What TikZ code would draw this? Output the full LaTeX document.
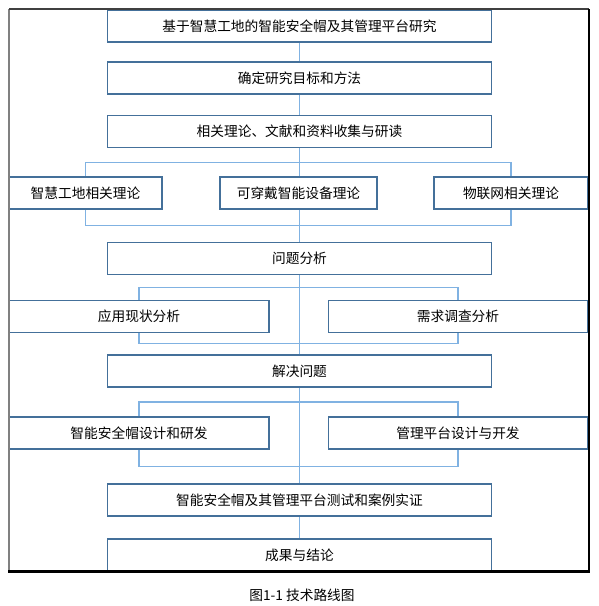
\documentclass[tikz,border=0pt]{standalone}
\usepackage{fontspec}
\newfontfamily\cjk{Noto Sans CJK SC}
\usetikzlibrary{calc,backgrounds}
\definecolor{boxline}{RGB}{68,112,154}
\definecolor{linkline}{RGB}{128,178,226}
\tikzset{stage/.style={draw=boxline, fill=white, line width=0.6pt, inner sep=0pt,
           minimum height=0.64cm, font=\cjk\fontsize{7.8}{9}\selectfont},
         wide/.style={stage, minimum width=7.7cm},
         half/.style={stage, minimum width=5.2cm},
         link/.style={draw=linkline, line width=0.6pt}}
\newcommand {\bracket}[4] {\coordinate (bt) at ($(#3.south)!0.5!(#1.north)$);
                           \coordinate (bb) at ($(#1.south)!0.5!(#4.north)$);
                           \draw[link] (#1.center |- bt) rectangle (#2.center |- bb);}

\begin{document}
\begin{tikzpicture}[x=0.02cm, y=-0.02cm]
        \useasboundingbox (0,0) rectangle (599,606);
        % main line
        \node[wide] (title) at (299.5,26) {基于智慧工地的智能安全帽及其管理平台研究};
        \node[wide] (goal) at (299.5,78) {确定研究目标和方法};
        \node[wide] (basis) at (299.5,131.5) {相关理论、文献和资料收集与研读};
        \node[stage, minimum width=3.06cm] (site) at (85.5,193) {智慧工地相关理论};
        \node[stage, minimum width=3.14cm] (wear) at (298.5,193) {可穿戴智能设备理论};
        \node[stage, minimum width=3.08cm] (iot) at (511,193) {物联网相关理论};
        \node[wide] (issue) at (299.5,258.5) {问题分析};
        \node[half] (status) at (139,316.5) {应用现状分析};
        \node[half] (demand) at (458,316.5) {需求调查分析};
        \node[wide] (solve) at (299.5,371) {解决问题};
        \node[half] (helmet) at (139,433) {智能安全帽设计和研发};
        \node[half] (platform) at (458,433) {管理平台设计与开发};
        \node[wide] (test) at (299.5,500) {智能安全帽及其管理平台测试和案例实证};
        \node[wide] (result) at (299.5,555) {成果与结论};
        \begin{pgfonlayer}{background}
            \draw[link] (title) -- (result);
            \bracket{site}{iot}{basis}{issue};
            \bracket{status}{demand}{issue}{solve};
            \bracket{helmet}{platform}{solve}{test};
        \end{pgfonlayer}
        % frame
        \draw[gray, line width=1.1pt] (9,9) -- (9,571);
        \draw[black!75, line width=0.6pt] (9,9) -- (589,9);
        \draw[line width=0.6pt] (589,9) -- (589,571);
        \draw[line width=1.7pt] (8,571) -- (590,571);
        \node[font=\cjk\fontsize{7.8}{9}\selectfont] (caption) at (302,595) {图1-1 技术路线图};
    \end{tikzpicture}
\end{document}
